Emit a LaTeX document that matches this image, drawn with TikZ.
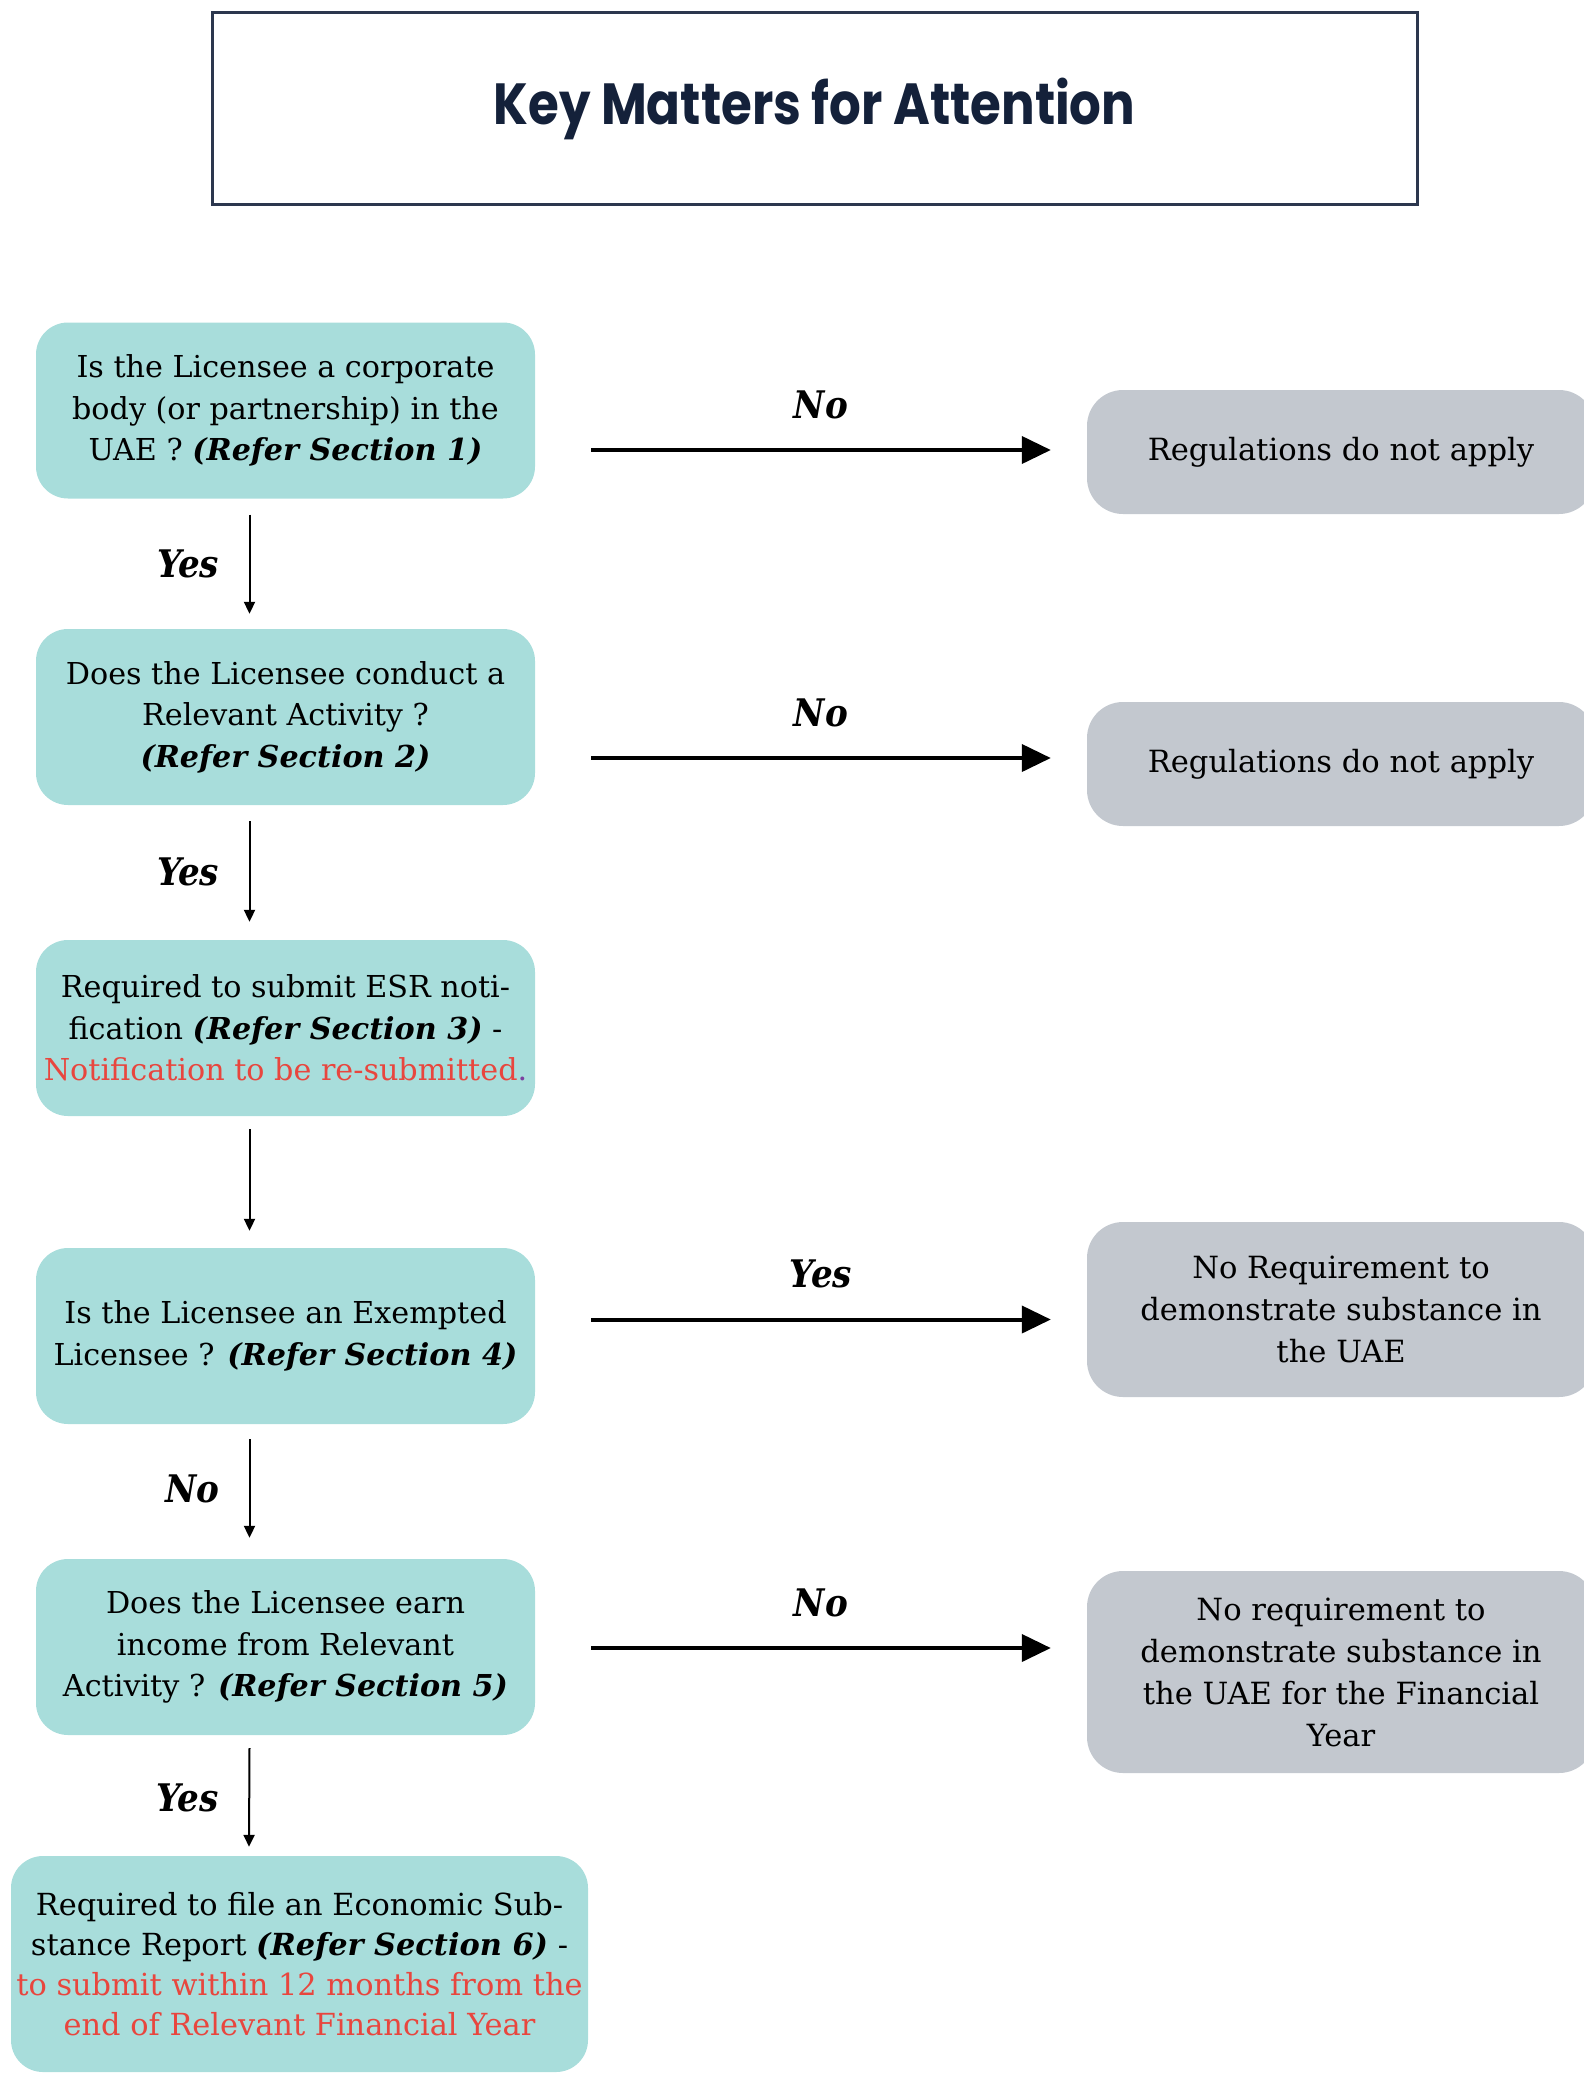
\documentclass[tikz,border=0pt]{standalone}
\usepackage{fontspec}
\setmainfont{DejaVu Serif}
\newfontfamily\titlefont[FakeStretch=0.86]{Poppins}
\newfontfamily\answerfont{DejaVu Serif Condensed}
\usetikzlibrary{arrows.meta}

\newcommand{\seesec}[1]{\textbf{\textit{(Refer Section #1)}}}

\begin{document}
\begin{tikzpicture}[x=1pt,y=-1pt]
  % Colors
  \definecolor{askcolor}{HTML}{A8DDDB}
  \definecolor{endcolor}{HTML}{C3C8CF}
  \definecolor{notecolor}{HTML}{E8463E}
  \definecolor{titlecolor}{HTML}{14213A}
  \definecolor{dotcolor}{HTML}{7B3FA0}

  % Styles
  \tikzstyle{question}=[rounded corners=32pt,fill=askcolor,minimum width=499pt,
    minimum height=176pt,inner sep=0pt,align=center,
    font=\fontsize{30.2}{41.6}\selectfont]
  \tikzstyle{outcome}=[rounded corners=36pt,fill=endcolor,minimum width=508pt,
    inner sep=0pt,align=center,font=\fontsize{30.6}{42}\selectfont]
  \tikzstyle{branch}=[line width=4pt,-{Triangle[length=29pt,width=27pt]}]
  \tikzstyle{flow}=[line width=2pt,-{Triangle[length=12pt,width=11pt]}]
  \tikzstyle{answer}=[font=\answerfont\fontsize{38}{44}\selectfont\bfseries\itshape]

  % The graphic
  \useasboundingbox (0,0) rectangle (1584,2074);
  \clip (0,0) rectangle (1584,2074);

  \node[draw=titlecolor!90,line width=3pt,minimum width=1205pt,minimum height=191pt,
    text=titlecolor,font=\titlefont\bfseries\fontsize{58}{60}\selectfont]
    (title) at (814.5,108.5) {Key Matters for Attention};

  % Questions
  \node[question] (q1) at (285.5,410.5)
    {Is the Licensee a corporate\\body (or partnership) in the\\UAE ? \seesec{1}};
  \node[question] (q2) at (285.5,717)
    {Does the Licensee conduct a\\Relevant Activity ?\\\seesec{2}};
  \node[question] (q3) at (285.5,1028)
    {Required to submit ESR noti-\\fication \seesec{3} -\\
     \textcolor{notecolor}{Notification to be re-submitted}\textcolor{dotcolor}{.}};
  \node[question] (q4) at (285.5,1336)
    {Is the Licensee an Exempted\\Licensee ? \seesec{4}};
  \node[question] (q5) at (285.5,1647)
    {Does the Licensee earn\\income from Relevant\\Activity ? \seesec{5}};
  \node[question,minimum width=577pt,minimum height=216pt,
    font=\fontsize{30.4}{40}\selectfont] (q6) at (299.5,1964)
    {Required to file an Economic Sub-\\stance Report \seesec{6} -\\
     \textcolor{notecolor}{to submit within 12 months from the}\\
     \textcolor{notecolor}{end of Relevant Financial Year}};

  % Outcomes
  \node[outcome,minimum height=124pt] (o1) at (1341,452) {Regulations do not apply};
  \node[outcome,minimum height=124pt] (o2) at (1341,764) {Regulations do not apply};
  \node[outcome,minimum height=175pt] (o3) at (1341,1309.5)
    {No Requirement to\\demonstrate substance in\\the UAE};
  \node[outcome,minimum height=202pt] (o4) at (1341,1672)
    {No requirement to\\demonstrate substance in\\the UAE for the Financial\\Year};

  % Side branches
  \coordinate (to1) at ([xshift=-36pt,yshift=2pt]o1.west);
  \coordinate (to2) at ([xshift=-36pt,yshift=6pt]o2.west);
  \coordinate (to3) at ([xshift=-36pt,yshift=-10pt]o3.west);
  \coordinate (to4) at ([xshift=-36pt,yshift=24pt]o4.west);
  \draw[branch] ([xshift=56pt]q1.east |- to1) -- node[answer,above=26pt] {No} (to1);
  \draw[branch] ([xshift=56pt]q2.east |- to2) -- node[answer,above=26pt] {No} (to2);
  \draw[branch] ([xshift=56pt]q4.east |- to3) -- node[answer,above=26pt] {Yes} (to3);
  \draw[branch] ([xshift=56pt]q5.east |- to4) -- node[answer,above=26pt] {No} (to4);

  % Main line
  \draw[flow] ([xshift=-36pt,yshift=-16pt]q1.south)
    -- node[answer,left=26pt] {Yes} ([xshift=-36pt,yshift=15pt]q2.north);
  \draw[flow] ([xshift=-36pt,yshift=-16pt]q2.south)
    -- node[answer,left=26pt] {Yes} ([xshift=-36pt,yshift=18pt]q3.north);
  \draw[flow] ([xshift=-36pt,yshift=-13pt]q3.south)
    -- ([xshift=-36pt,yshift=17pt]q4.north);
  \draw[flow] ([xshift=-36pt,yshift=-15pt]q4.south)
    -- node[answer,left=26pt] {No} ([xshift=-36pt,yshift=21pt]q5.north);
  \draw[flow] ([xshift=-36pt,yshift=-13pt]q5.south)
    -- node[answer,left=26pt] {Yes} ([xshift=-50.5pt,yshift=9pt]q6.north);
\end{tikzpicture}
\end{document}
